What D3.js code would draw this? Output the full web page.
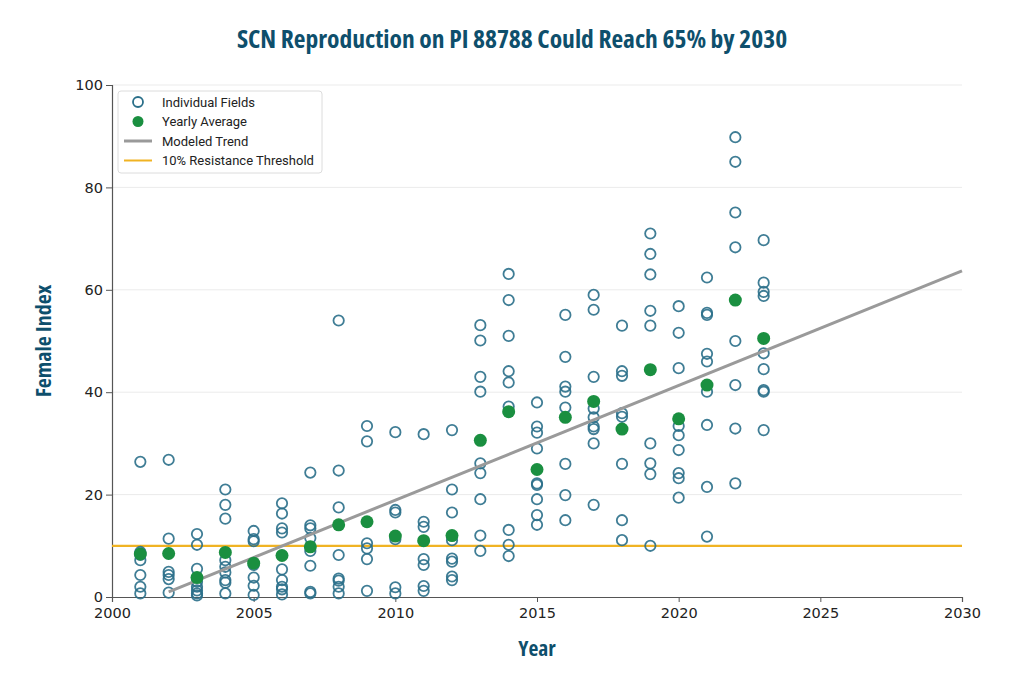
<!DOCTYPE html>
<html>
<head>
<meta charset="utf-8">
<script src="https://cdn.jsdelivr.net/npm/d3@7"></script>
<style>
  body { margin: 0; background: #fff; }
  svg { display: block; }
  .cond { font-family: 'Open Sans', 'DejaVu Sans Condensed', sans-serif; font-stretch: 75%; font-weight: 700; fill: #0e4f6c; }
  .tick text { font-family: 'DejaVu Sans', sans-serif; font-size: 14.5px; fill: #222; }
  .legend text { font-family: Roboto, 'Noto Sans', sans-serif; font-size: 13px; fill: #222; }
</style>
</head>
<body>
<svg id="chart" width="1024" height="683"></svg>
<script>
// Field observations per year (female index, %)
const years = [2001, 2002, 2003, 2004, 2005, 2006, 2007, 2008, 2009, 2010, 2011, 2012,
               2013, 2014, 2015, 2016, 2017, 2018, 2019, 2020, 2021, 2022, 2023];

const fieldValues = [
  [26.4, 8.8, 8.2, 7.2, 4.3, 2.0, 0.7],
  [26.8, 11.4, 4.9, 4.3, 3.5, 0.85],
  [12.3, 10.2, 5.5, 3.0, 2.0, 1.3, 0.7, 0.3],
  [21.0, 18.0, 15.3, 7.2, 5.9, 4.8, 3.3, 2.8, 0.7],
  [12.9, 11.3, 10.9, 6.25, 3.8, 2.2, 0.4],
  [18.3, 16.3, 13.4, 12.6, 5.4, 3.3, 2.0, 1.5, 0.5],
  [24.3, 14.0, 13.4, 11.5, 9.0, 6.1, 1.0, 0.7],
  [54.0, 24.7, 17.5, 8.2, 3.6, 3.2, 2.0, 0.7],
  [33.4, 30.4, 10.5, 9.5, 7.4, 1.2],
  [32.2, 17.0, 16.5, 11.3, 1.9, 0.7],
  [31.8, 14.7, 13.7, 7.4, 6.25, 2.15, 1.2],
  [32.6, 21.0, 16.5, 11.1, 7.5, 6.9, 4.0, 3.3],
  [53.1, 50.1, 43.0, 40.1, 26.1, 24.2, 19.1, 12.0, 9.0],
  [63.1, 58.0, 51.0, 44.1, 41.9, 37.2, 13.1, 10.2, 8.0],
  [38.0, 33.3, 32.1, 29.0, 22.2, 21.9, 19.1, 16.0, 14.1],
  [55.1, 46.9, 41.1, 40.1, 37.0, 26.0, 19.9, 15.0],
  [59.0, 56.1, 43.0, 36.8, 35.1, 33.3, 32.8, 30.0, 18.0],
  [53.0, 44.1, 43.2, 35.9, 35.2, 26.0, 15.0, 11.1],
  [71.0, 67.0, 63.0, 55.9, 53.0, 30.0, 26.1, 24.0, 10.0],
  [56.8, 51.6, 44.7, 33.4, 31.6, 28.7, 24.2, 23.2, 19.4],
  [62.4, 55.5, 55.1, 47.5, 46.0, 40.1, 33.6, 21.5, 11.8],
  [89.8, 85.0, 75.1, 68.3, 50.0, 41.4, 32.9, 22.2],
  [69.7, 61.4, 59.6, 58.8, 47.6, 44.5, 40.4, 40.1, 32.6]
];

const yearlyAverage = [8.4, 8.5, 3.8, 8.7, 6.6, 8.1, 9.8, 14.1, 14.7, 11.9, 11.0, 12.0,
                       30.6, 36.2, 24.9, 35.1, 38.2, 32.8, 44.4, 34.8, 41.4, 58.0, 50.5];

const trendYears = [2002, 2030];
const trendValues = [1.0, 63.7];

const thresholdValue = 10;

const xTicks = [2000, 2005, 2010, 2015, 2020, 2025, 2030];
const yTicks = [0, 20, 40, 60, 80, 100];

const legendLabels = ['Individual Fields', 'Yearly Average', 'Modeled Trend', '10% Resistance Threshold'];

const COLORS = {
  field: '#2a6f89',
  average: '#1a8f40',
  trend: '#9a9a9a',
  threshold: '#f0b323'
};

const margin = { top: 85, right: 62, bottom: 86, left: 112 };
const width = 1024 - margin.left - margin.right;
const height = 683 - margin.top - margin.bottom;

const svg = d3.select('#chart');
const g = svg.append('g').attr('transform', `translate(${margin.left},${margin.top})`);

const x = d3.scaleLinear().domain([2000, 2030]).range([0, width]);
const y = d3.scaleLinear().domain([0, 100]).range([height, 0]);

// Gridlines
g.append('g')
  .selectAll('line')
  .data(yTicks.filter(d => d > 0))
  .enter()
  .append('line')
  .attr('x1', 0)
  .attr('x2', width)
  .attr('y1', d => y(d))
  .attr('y2', d => y(d))
  .attr('stroke', '#ebebeb')
  .attr('stroke-width', 1);

// Axes
const xAxis = g.append('g')
  .attr('transform', `translate(0,${height})`)
  .call(d3.axisBottom(x).tickValues(xTicks).tickFormat(d3.format('d')).tickSize(5).tickPadding(6));
const yAxis = g.append('g')
  .call(d3.axisLeft(y).tickValues(yTicks).tickSize(6).tickPadding(3));

[xAxis, yAxis].forEach(ax => {
  ax.select('.domain').attr('stroke', '#555').attr('stroke-width', 1.2);
  ax.selectAll('.tick line').attr('stroke', '#555');
});

// Threshold
g.append('line')
  .attr('x1', 0)
  .attr('x2', width)
  .attr('y1', y(thresholdValue))
  .attr('y2', y(thresholdValue))
  .attr('stroke', COLORS.threshold)
  .attr('stroke-width', 2.2);

// Individual fields
const fieldPoints = years.flatMap((yr, i) => fieldValues[i].map(v => ({ year: yr, value: v })));

g.append('g')
  .selectAll('circle')
  .data(fieldPoints)
  .enter()
  .append('circle')
  .attr('cx', d => x(d.year))
  .attr('cy', d => y(d.value))
  .attr('r', 5.2)
  .attr('fill', 'none')
  .attr('stroke', COLORS.field)
  .attr('stroke-opacity', 0.9)
  .attr('stroke-width', 1.8);

// Modeled trend
const line = d3.line()
  .x(d => x(d[0]))
  .y(d => y(d[1]));

g.append('path')
  .datum(trendYears.map((yr, i) => [yr, trendValues[i]]))
  .attr('fill', 'none')
  .attr('stroke', COLORS.trend)
  .attr('stroke-width', 3)
  .attr('d', line);

// Yearly average
g.append('g')
  .selectAll('circle')
  .data(years.map((yr, i) => ({ year: yr, value: yearlyAverage[i] })))
  .enter()
  .append('circle')
  .attr('cx', d => x(d.year))
  .attr('cy', d => y(d.value))
  .attr('r', 6.5)
  .attr('fill', COLORS.average);

// Legend
const legend = svg.append('g').attr('class', 'legend').attr('transform', 'translate(118,91)');
legend.append('rect')
  .attr('width', 204)
  .attr('height', 82)
  .attr('rx', 3)
  .attr('fill', '#fff')
  .attr('stroke', '#dcdcdc');

legendLabels.forEach((label, i) => {
  const row = legend.append('g').attr('transform', `translate(0,${11 + i * 19.5})`);
  if (i === 0) {
    row.append('circle').attr('cx', 20).attr('r', 5).attr('fill', 'none')
      .attr('stroke', COLORS.field).attr('stroke-width', 1.8);
  } else if (i === 1) {
    row.append('circle').attr('cx', 20).attr('r', 5.5).attr('fill', COLORS.average);
  } else {
    row.append('line').attr('x1', 6).attr('x2', 34)
      .attr('stroke', i === 2 ? COLORS.trend : COLORS.threshold)
      .attr('stroke-width', i === 2 ? 3 : 2);
  }
  row.append('text').attr('x', 44).attr('dy', '0.35em').text(label);
});

// Titles
svg.append('text')
  .attr('class', 'cond')
  .attr('x', 512)
  .attr('y', 48)
  .attr('text-anchor', 'middle')
  .style('font-size', '25.5px')
  .text('SCN Reproduction on PI 88788 Could Reach 65% by 2030');

svg.append('text')
  .attr('class', 'cond')
  .attr('x', margin.left + width / 2)
  .attr('y', 656)
  .attr('text-anchor', 'middle')
  .style('font-size', '21.5px')
  .text('Year');

svg.append('text')
  .attr('class', 'cond')
  .attr('transform', `translate(51,${margin.top + height / 2}) rotate(-90)`)
  .attr('text-anchor', 'middle')
  .style('font-size', '22px')
  .text('Female Index');
</script>
</body>
</html>
